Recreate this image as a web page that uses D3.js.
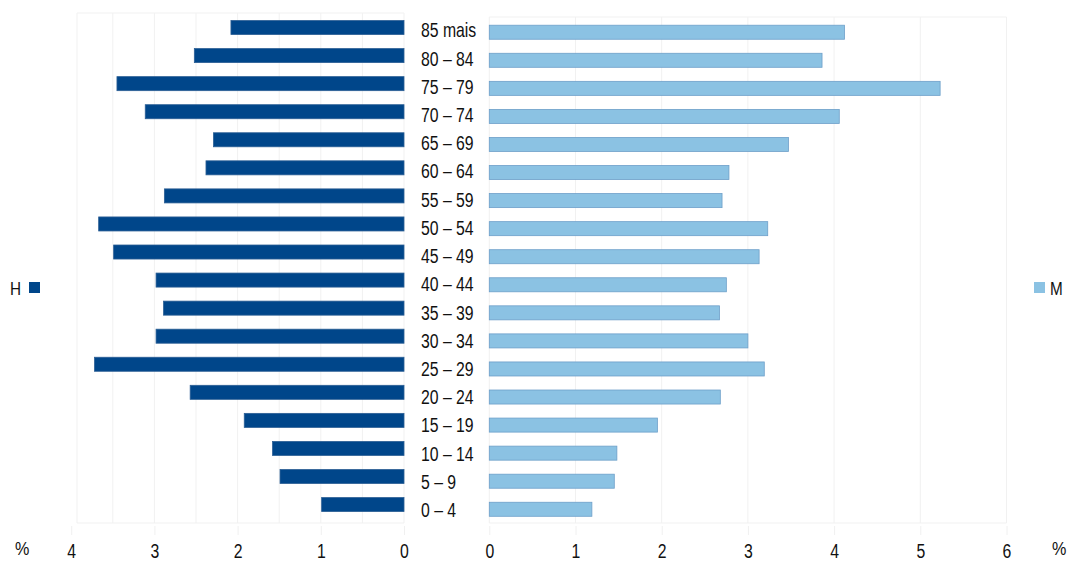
<!DOCTYPE html>
<html>
<head>
<meta charset="utf-8">
<script src="https://cdn.jsdelivr.net/npm/d3@7"></script>
<style>
  html, body { margin: 0; padding: 0; background: #fff; }
  svg text { font-family: "Liberation Sans", Arial, sans-serif; fill: #111; }
</style>
</head>
<body>
<svg id="chart" width="1076" height="561"></svg>
<script>
const W = 1076, H = 561;

// age groups, top to bottom
const ageGroups = ["85 mais", "80 – 84", "75 – 79", "70 – 74", "65 – 69", "60 – 64",
  "55 – 59", "50 – 54", "45 – 49", "40 – 44", "35 – 39", "30 – 34", "25 – 29",
  "20 – 24", "15 – 19", "10 – 14", "5 – 9", "0 – 4"];

// % homens (H) and mulheres (M)
const menPct = [2.08, 2.52, 3.45, 3.11, 2.29, 2.38, 2.88, 3.67, 3.49,
  2.98, 2.89, 2.98, 3.72, 2.57, 1.92, 1.58, 1.49, 0.99];
const womenPct = [4.12, 3.86, 5.23, 4.06, 3.47, 2.78, 2.70, 3.23, 3.13,
  2.75, 2.67, 3.00, 3.19, 2.68, 1.95, 1.48, 1.45, 1.19];

const leftTicks = [4, 3, 2, 1, 0];
const rightTicks = [0, 1, 2, 3, 4, 5, 6];

const colMen = "#00468a";
const colWomen = "#8bc2e3";
const gridCol = "#f1f1f1";

const svg = d3.select("#chart");

// scales
const xL = d3.scaleLinear().domain([0, 4]).range([404, 71.2]);
const xR = d3.scaleLinear().domain([0, 6]).range([489.3, 1006.5]);
const y = d3.scaleBand().domain(ageGroups).range([13.5, 518.6])
  .paddingInner(0.5).paddingOuter(0.25);
const shiftR = 4.7; // women bars sit a bit lower

// faint grid
const grid = svg.append("g").attr("stroke", gridCol).attr("stroke-width", 1);
grid.selectAll(".gl").data(d3.range(0, 4, 0.5)).enter().append("line")
  .attr("x1", d => xL(d)).attr("x2", d => xL(d))
  .attr("y1", 13).attr("y2", 523);
grid.append("line").attr("x1", 77).attr("x2", 77).attr("y1", 13).attr("y2", 523);
grid.selectAll(".gr").data(rightTicks).enter().append("line")
  .attr("x1", d => xR(d)).attr("x2", d => xR(d))
  .attr("y1", 17).attr("y2", 523);
grid.append("line").attr("x1", 77).attr("x2", 404).attr("y1", 13).attr("y2", 13);
grid.append("line").attr("x1", 77).attr("x2", 404).attr("y1", 523).attr("y2", 523);
grid.append("line").attr("x1", xR(0)).attr("x2", xR(6)).attr("y1", 17).attr("y2", 17);
grid.append("line").attr("x1", xR(0)).attr("x2", xR(6)).attr("y1", 523).attr("y2", 523);

// bars: men to the left
svg.append("g").selectAll("rect").data(menPct).enter().append("rect")
  .attr("x", d => xL(d))
  .attr("y", (d, i) => y(ageGroups[i]))
  .attr("width", d => xL(0) - xL(d))
  .attr("height", y.bandwidth())
  .attr("fill", colMen)
  .attr("stroke", "#2c5f95").attr("stroke-width", 0.8);

// bars: women to the right
svg.append("g").selectAll("rect").data(womenPct).enter().append("rect")
  .attr("x", xR(0))
  .attr("y", (d, i) => y(ageGroups[i]) + shiftR)
  .attr("width", d => xR(d) - xR(0))
  .attr("height", y.bandwidth())
  .attr("fill", colWomen)
  .attr("stroke", "#6d9fc9").attr("stroke-width", 0.8);

// age labels in the middle (condensed look)
svg.append("g").selectAll("text").data(ageGroups).enter().append("text")
  .attr("transform", (d, i) => `translate(421,${y(d) + y.bandwidth() / 2 + 2.5 + i * 0.15}) scale(0.77,1)`)
  .attr("dy", "0.36em")
  .attr("font-size", 20.5)
  .text(d => d);

// bottom axes
function styleAxis(g) {
  g.select(".domain").remove();
  g.selectAll(".tick line").attr("stroke", "#f0f0f0").attr("y1", 3).attr("y2", 12);
  g.selectAll(".tick text")
    .attr("font-size", 20.5)
    .attr("fill", "#111")
    .attr("y", 20)
    .attr("transform", "scale(0.77,1)");
}

svg.append("g").attr("transform", "translate(0,523)")
  .call(d3.axisBottom(xL).tickValues(leftTicks).tickFormat(d3.format("d")).tickSizeOuter(0))
  .call(styleAxis);

svg.append("g").attr("transform", "translate(0,523)")
  .call(d3.axisBottom(xR).tickValues(rightTicks).tickFormat(d3.format("d")).tickSizeOuter(0))
  .call(styleAxis);

// percent signs
svg.append("text").attr("transform", "translate(15,555) scale(0.85,1)")
  .attr("font-size", 19).text("%");
svg.append("text").attr("transform", "translate(1052,555) scale(0.85,1)")
  .attr("font-size", 19).text("%");

// legends
svg.append("text").attr("transform", "translate(10,295) scale(0.85,1)")
  .attr("font-size", 18).text("H");
svg.append("rect").attr("x", 29).attr("y", 282).attr("width", 11).attr("height", 11)
  .attr("fill", colMen);
svg.append("rect").attr("x", 1034).attr("y", 282).attr("width", 11).attr("height", 11)
  .attr("fill", colWomen);
svg.append("text").attr("transform", "translate(1050,295) scale(0.85,1)")
  .attr("font-size", 18).text("M");
</script>
</body>
</html>
